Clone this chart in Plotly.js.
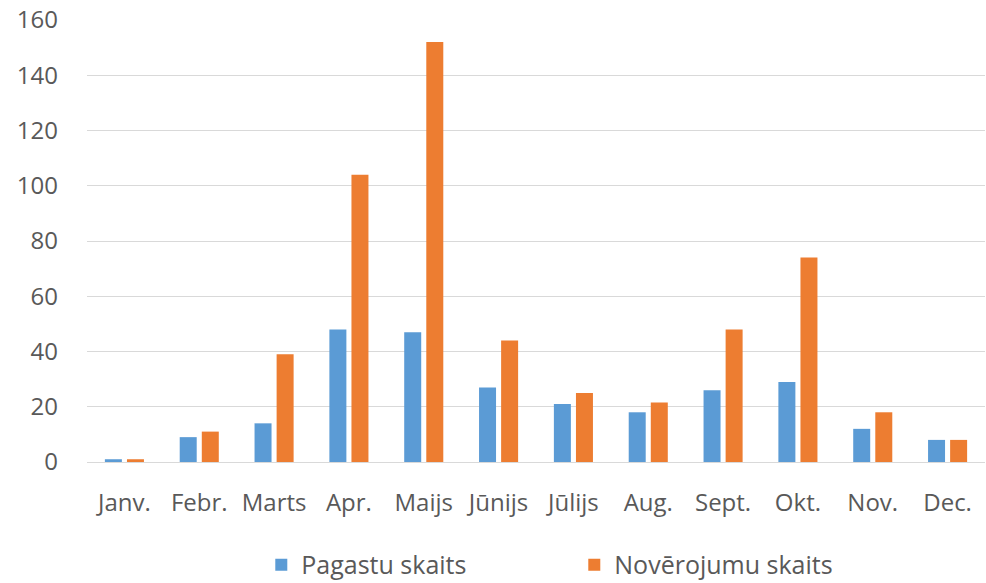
<!DOCTYPE html>
<html>
<head>
<meta charset="utf-8">
<script src="https://cdn.plot.ly/plotly-3.0.1.min.js"></script>
<style>html,body{margin:0;padding:0;background:#fff;}#chart{width:986px;height:583px;}</style>
</head>
<body>
<div id="chart"></div>
<script>
const months = ["Janv.","Febr.","Marts","Apr.","Maijs","Jūnijs","Jūlijs","Aug.","Sept.","Okt.","Nov.","Dec."];
const pagastuSkaits = [1, 9, 14, 48, 47, 27, 21, 18, 26, 29, 12, 8];
const noverojumuSkaits = [1, 11, 39, 104, 152, 44, 25, 21.5, 48, 74, 18, 8];
const yTicks = [0, 20, 40, 60, 80, 100, 120, 140, 160];

const traces = [
  {type:"bar", name:"Pagastu skaits", x:months, y:pagastuSkaits, marker:{color:"#5B9BD5"}},
  {type:"bar", name:"Novērojumu skaits", x:months, y:noverojumuSkaits, marker:{color:"#ED7D31"}}
];
const layout = {
  width:986, height:583,
  margin:{l:87, r:1, t:20, b:121, autoexpand:false},
  paper_bgcolor:"#fff", plot_bgcolor:"#fff",
  font:{family:"Open Sans, sans-serif", size:24, color:"#595959"},
  barmode:"group", bargap:0.41, bargroupgap:0.23,
  showlegend:true,
  legend:{orientation:"h", xref:"container", x:0.265, xanchor:"left", yref:"container", y:0.031, yanchor:"middle",
          font:{size:25, color:"#595959"}, itemwidth:30, entrywidth:268, entrywidthmode:"pixels", traceorder:"normal"},
  xaxis:{type:"category", showgrid:false, zeroline:false, showline:true, linecolor:"#d9d9d9", linewidth:1, ticks:"", ticklabelstandoff:19, tickfont:{size:24, color:"#595959"}},
  yaxis:{range:[0,160], tickvals:yTicks, ticktext:yTicks.map(String), showgrid:true, gridcolor:"#d9d9d9", gridwidth:1, zeroline:false, showline:false, ticks:"", ticklabelstandoff:28, tickfont:{size:24, color:"#595959"}}
};
Plotly.newPlot("chart", traces, layout, {displayModeBar:false, staticPlot:true});
</script>
</body>
</html>
